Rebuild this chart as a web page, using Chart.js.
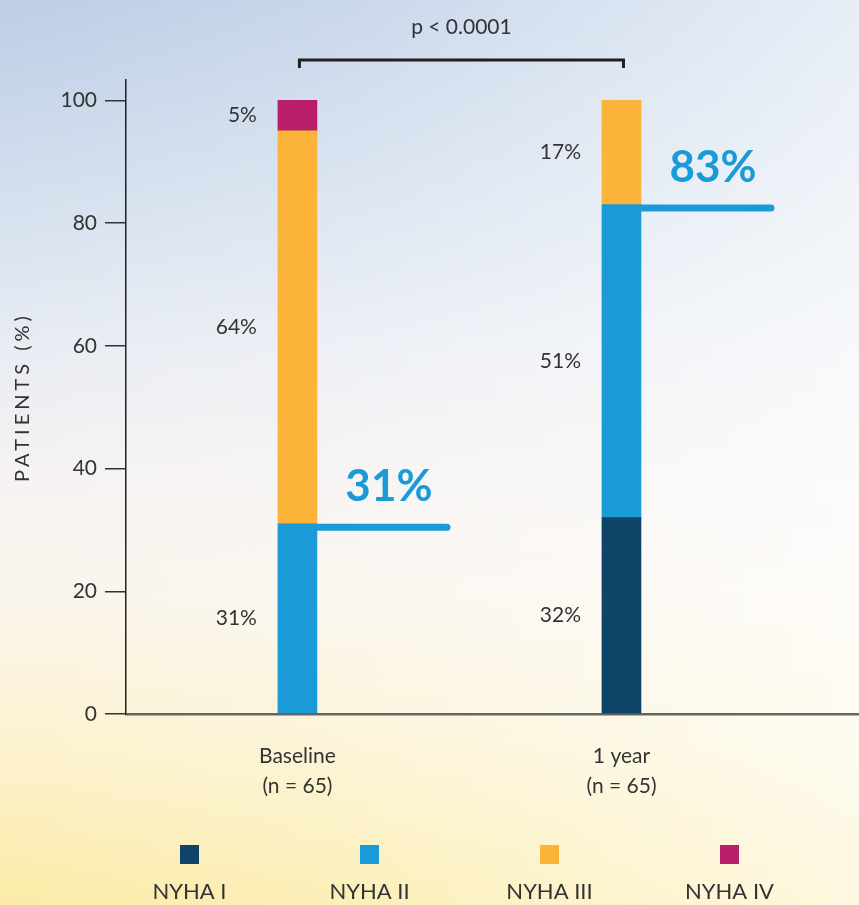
<!DOCTYPE html>
<html>
<head>
<meta charset="utf-8">
<title>NYHA class at baseline and 1 year</title>
<script src="https://cdn.jsdelivr.net/npm/chart.js@4/dist/chart.umd.min.js"></script>
<style>
  html, body { margin: 0; padding: 0; }
  body {
    width: 859px;
    height: 905px;
    overflow: hidden;
    background:
      linear-gradient(to right, rgba(255,255,255,0) 0%, rgba(255,255,255,0.2) 40%, rgba(255,255,255,0.65) 100%),
      linear-gradient(to bottom, #bccde6 0%, #d2deed 20%, #e8ecf3 38%, #f5f2f2 52%, #faf5ec 66%, #fcf2d0 82%, #fbeba6 100%);
  }
  canvas { display: block; }
</style>
</head>
<body>
<canvas id="chart" width="859" height="905"></canvas>
<script>
// Categories and NYHA class distribution (% of patients)
const categories = ['Baseline', '1 year'];
const sampleSizes = ['(n = 65)', '(n = 65)'];
const seriesNames = ['NYHA I', 'NYHA II', 'NYHA III', 'NYHA IV'];
const nyhaI = [0, 32];
const nyhaII = [31, 51];
const nyhaIII = [64, 17];
const nyhaIV = [5, 0];
const yTicks = [0, 20, 40, 60, 80, 100];
const pValueText = 'p < 0.0001';

const seriesValues = [nyhaI, nyhaII, nyhaIII, nyhaIV];
const seriesColors = ['#0e4468', '#1a9ad6', '#fbb33a', '#b81e6a'];
const textColor = '#333333';
const fontFamily = 'Lato, "Open Sans", sans-serif';

// Share of patients in NYHA I or II per time point
const classIorII = categories.map((_, i) => nyhaI[i] + nyhaII[i]);

const datasets = seriesNames.map((name, s) => ({
  label: name,
  data: seriesValues[s].map((v, i) => ({ x: i, y: v })),
  backgroundColor: seriesColors[s],
  borderWidth: 0,
  barThickness: 39
}));

// Percentage labels to the left of each bar segment
const segmentLabels = {
  id: 'segmentLabels',
  afterDatasetsDraw(chart) {
    const ctx = chart.ctx;
    ctx.save();
    ctx.font = '21px ' + fontFamily;
    ctx.fillStyle = textColor;
    ctx.textAlign = 'right';
    ctx.textBaseline = 'middle';
    chart.data.datasets.forEach((ds, d) => {
      const meta = chart.getDatasetMeta(d);
      meta.data.forEach((bar, i) => {
        const v = seriesValues[d][i];
        if (!v) return;
        const p = bar.getProps(['x', 'y', 'base', 'width'], true);
        ctx.fillText(v + '%', p.x - p.width / 2 - 21, (p.y + p.base) / 2);
      });
    });
    ctx.restore();
  }
};

// Highlight of NYHA I + II share with a bold figure and a rule
const classCallout = {
  id: 'classCallout',
  afterDatasetsDraw(chart) {
    const ctx = chart.ctx;
    const xs = chart.scales.x, ys = chart.scales.y;
    ctx.save();
    ctx.strokeStyle = '#1a9ad6';
    ctx.fillStyle = '#1a9ad6';
    ctx.lineWidth = 7;
    categories.forEach((_, i) => {
      const barRight = xs.getPixelForValue(i) + 19.5;
      const py = ys.getPixelForValue(classIorII[i]) + 3.5;
      const end = barRight + 130;
      ctx.beginPath();
      ctx.lineCap = 'butt';
      ctx.moveTo(barRight, py);
      ctx.lineTo(end, py);
      ctx.stroke();
      ctx.beginPath();
      ctx.arc(end, py, 3.5, -Math.PI / 2, Math.PI / 2);
      ctx.fill();
      ctx.font = 'bold 44px ' + fontFamily;
      ctx.textAlign = 'center';
      ctx.textBaseline = 'middle';
      ctx.fillText(classIorII[i] + '%', barRight + 72, py - 40);
    });
    ctx.restore();
  }
};

// Significance bracket across both bars
const significance = {
  id: 'significance',
  afterDraw(chart) {
    const ctx = chart.ctx;
    const xs = chart.scales.x;
    const x0 = xs.getPixelForValue(0) + 2;
    const x1 = xs.getPixelForValue(1) + 2;
    ctx.save();
    ctx.strokeStyle = '#231f20';
    ctx.lineWidth = 3;
    ctx.lineCap = 'butt';
    ctx.lineJoin = 'miter';
    ctx.beginPath();
    ctx.moveTo(x0, 68);
    ctx.lineTo(x0, 60);
    ctx.lineTo(x1, 60);
    ctx.lineTo(x1, 68);
    ctx.stroke();
    ctx.font = '21px ' + fontFamily;
    ctx.fillStyle = textColor;
    ctx.textAlign = 'center';
    ctx.textBaseline = 'middle';
    ctx.fillText(pValueText, (x0 + x1) / 2, 27);
    ctx.restore();
  }
};

// Legend: colour square above each class name
const squareLegend = {
  id: 'squareLegend',
  afterDraw(chart) {
    const ctx = chart.ctx;
    ctx.save();
    ctx.font = '22px ' + fontFamily;
    ctx.textAlign = 'center';
    ctx.textBaseline = 'middle';
    chart.data.datasets.forEach((ds, d) => {
      const cx = 189.5 + d * 180;
      ctx.fillStyle = ds.backgroundColor;
      ctx.fillRect(cx - 9.5, 845, 19, 19);
      ctx.fillStyle = textColor;
      ctx.fillText(ds.label, cx, 892);
    });
    ctx.restore();
  }
};

// Spaced capitals for the value-axis title
const spacedTitle = {
  id: 'spacedTitle',
  beforeDraw(chart) {
    const s = chart.scales.y;
    if (s._spacedTitle) return;
    const orig = s.drawTitle;
    s.drawTitle = function (...args) {
      this.ctx.save();
      this.ctx.letterSpacing = '4px';
      orig.apply(this, args);
      this.ctx.restore();
    };
    s._spacedTitle = true;
  }
};

new Chart(document.getElementById('chart'), {
  type: 'bar',
  data: { datasets },
  options: {
    responsive: false,
    animation: false,
    layout: { padding: { top: 80, left: 0, right: 0, bottom: 0 } },
    plugins: {
      legend: { display: false },
      tooltip: { enabled: false }
    },
    scales: {
      x: {
        type: 'linear',
        min: -0.529,
        max: 1.733,
        stacked: true,
        offset: false,
        afterBuildTicks: s => { s.ticks = categories.map((_, i) => ({ value: i })); },
        afterFit: s => { s.height = 191; },
        grid: { display: false, drawTicks: false },
        border: { display: true, color: '#666666', width: 2.5 },
        ticks: {
          padding: 27,
          color: textColor,
          maxRotation: 0,
          autoSkip: false,
          font: { family: fontFamily, size: 21, lineHeight: 1.45 },
          callback: v => [categories[v], sampleSizes[v]]
        }
      },
      y: {
        stacked: true,
        min: 0,
        max: 103.3,
        afterBuildTicks: s => { s.ticks = yTicks.map(v => ({ value: v })); },
        afterFit: s => { s.width = 126; },
        grid: { drawOnChartArea: false, drawTicks: true, tickLength: 21, color: '#333333', lineWidth: 1.5 },
        border: { display: true, color: '#222222', width: 1.5 },
        ticks: { padding: 8, color: textColor, font: { family: fontFamily, size: 21 } },
        title: {
          display: true,
          text: 'PATIENTS (%)',
          color: textColor,
          font: { family: fontFamily, size: 20 },
          padding: { top: 11, bottom: 0 }
        }
      }
    }
  },
  plugins: [spacedTitle, segmentLabels, classCallout, significance, squareLegend]
});
</script>
</body>
</html>
